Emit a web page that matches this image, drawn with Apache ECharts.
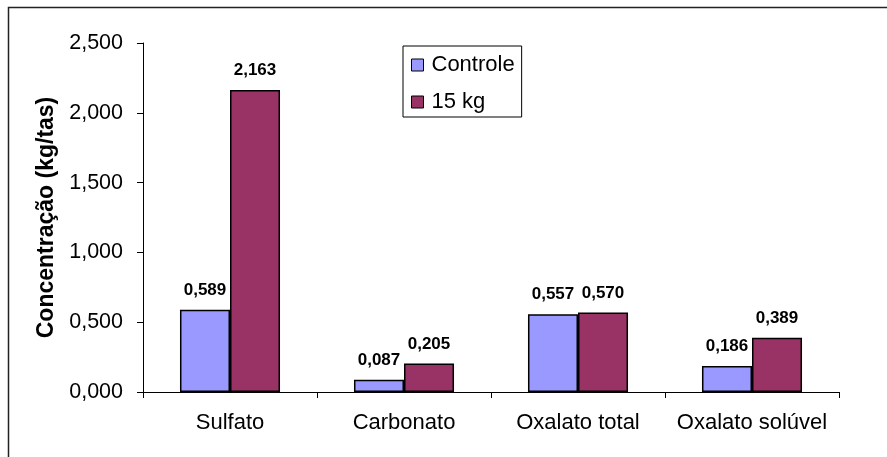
<!DOCTYPE html>
<html><head><meta charset="utf-8">
<script src="https://cdn.jsdelivr.net/npm/echarts@6/dist/echarts.min.js"></script>
<style>html,body{margin:0;padding:0;background:#fff}#c{width:887px;height:457px}</style>
</head><body><div id="c"></div>
<script>
var categories = ['Sulfato', 'Carbonato', 'Oxalato total', 'Oxalato solúvel'];
var controle = [0.589, 0.087, 0.557, 0.186];
var kg15 = [2.163, 0.205, 0.570, 0.389];
var seriesNames = ['Controle', '15 kg'];
var yTicks = {min: 0, max: 2.5, interval: 0.5};

function fmt(v){ return Number(v).toFixed(3).replace('.', ','); }

var chart = echarts.init(document.getElementById('c'), null, {renderer: 'canvas'});
var font = 'Arial, "Liberation Sans", sans-serif';
var labelOpt = {show: true, position: 'top', distance: 11, fontFamily: font, fontWeight: 'bold', fontSize: 17, color: '#000',
  formatter: function(p){ return fmt(p.value); }};
chart.setOption({
  animation: false,
  backgroundColor: '#fff',
  graphic: [{type: 'rect', shape: {x: 8.5, y: 7.5, width: 1000, height: 1000}, style: {fill: 'none', stroke: '#222', lineWidth: 1.5}, silent: true}],
  grid: {left: 143, right: 48, top: 43, bottom: 65, containLabel: false},
  legend: {
    data: seriesNames, orient: 'vertical', left: 403, top: 46,
    backgroundColor: '#fff', borderColor: '#000', borderWidth: 1,
    padding: [8, 7, 4, 8], itemGap: 15, itemWidth: 12, itemHeight: 12, icon: 'rect',
    textStyle: {fontFamily: font, fontSize: 22, color: '#000', padding: [0, 0, 0, 3]},
    itemStyle: {borderColor: '#000', borderWidth: 1}
  },
  xAxis: {
    type: 'category', data: categories,
    axisLine: {lineStyle: {color: '#000', width: 1}},
    axisTick: {show: true, length: 6, lineStyle: {color: '#000'}},
    axisLabel: {interval: 0, fontFamily: font, fontSize: 22, color: '#000', margin: 20}
  },
  yAxis: {
    type: 'value', min: yTicks.min, max: yTicks.max, interval: yTicks.interval,
    name: 'Concentração (kg/tas)', nameLocation: 'middle', nameGap: 85,
    nameTextStyle: {fontFamily: font, fontSize: 23, fontWeight: 'bold', color: '#000'},
    splitLine: {show: false},
    axisLine: {show: true, lineStyle: {color: '#000', width: 1}},
    axisTick: {show: true, length: 6, lineStyle: {color: '#000'}},
    axisLabel: {fontFamily: font, fontSize: 21.5, color: '#000', margin: 20, formatter: fmt}
  },
  series: [
    {name: seriesNames[0], type: 'bar', data: controle, barGap: '0%', barCategoryGap: '42.5%',
     itemStyle: {color: '#9999FF', borderColor: '#000', borderWidth: 1.5}, label: labelOpt},
    {name: seriesNames[1], type: 'bar', data: kg15, barGap: '0%', barCategoryGap: '42.5%',
     itemStyle: {color: '#993366', borderColor: '#000', borderWidth: 1.5}, label: labelOpt}
  ]
});
</script></body></html>
